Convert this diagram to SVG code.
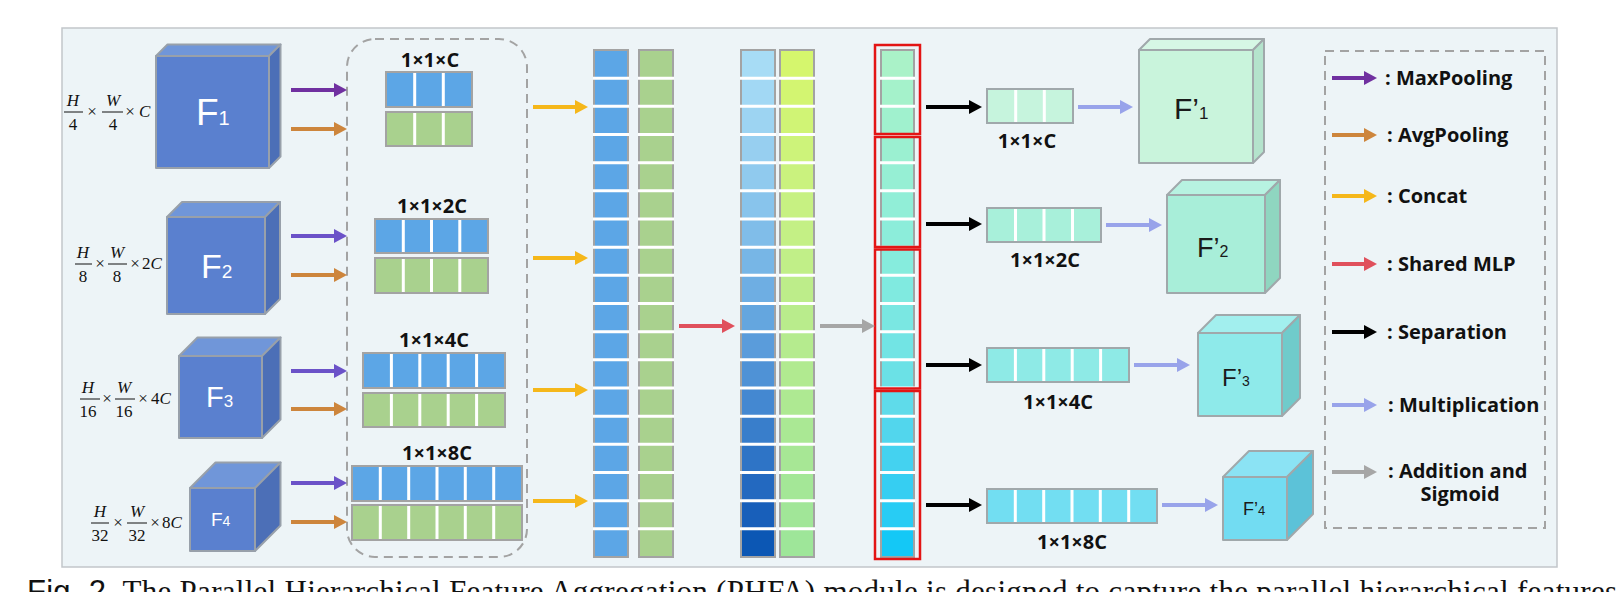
<svg xmlns="http://www.w3.org/2000/svg" width="1620" height="592" viewBox="0 0 1620 592">
<style>
.frame{fill:#edf4f7;stroke:#c2c6ca;stroke-width:1.5}
.dash{fill:none;stroke:#a3a3a3;stroke-width:2;stroke-dasharray:9 6}
.cf{fill:#5a80cf;stroke:#98a0aa;stroke-width:2;stroke-linejoin:round}
.ct{fill:#7096d9;stroke:#98a0aa;stroke-width:2;stroke-linejoin:round}
.cr{fill:#4c6fb7;stroke:#98a0aa;stroke-width:2;stroke-linejoin:round}
.ctxt{font-family:"Liberation Sans",Arial,sans-serif;fill:#ffffff}
.ptxt{font-family:"Liberation Sans",Arial,sans-serif;fill:#1a1a1a}
.math{font-family:"Liberation Serif","Times New Roman",serif;font-size:17px;fill:#111}
.it{font-style:italic}
.bar{stroke:#111;stroke-width:1}
.lbl{font-family:"Open Sans","Noto Sans",sans-serif;font-weight:700;font-size:20px;fill:#111;text-anchor:middle}
.leg{font-family:"Open Sans","Noto Sans",sans-serif;font-weight:700;font-size:20px;fill:#111}
.vb{fill:#5ca6e6;stroke:#a3a3a3;stroke-width:2}
.vg{fill:#a9d18e;stroke:#a3a3a3;stroke-width:2}
.cell{stroke:none}
.colo{fill:none;stroke:#a3a3a3;stroke-width:2}
.colb{fill:#5ca6e6;stroke:#a3a3a3;stroke-width:2}
.colg{fill:#a9d18e;stroke:#a3a3a3;stroke-width:2}
.sep{stroke:#ffffff;stroke-width:3}
.red{fill:none;stroke:#e31414;stroke-width:2.5}
.ps{stroke:#a0a8ab;stroke-width:2;stroke-linejoin:round}
.cap{font-family:"Liberation Serif","Times New Roman",serif;font-size:31px;fill:#111}
.a{fill:none;stroke-width:4}
</style>
<defs>
<marker id="mPur" markerUnits="userSpaceOnUse" markerWidth="14" markerHeight="14" refX="1" refY="7" orient="auto"><path d="M0,0 L13,7 L0,14 z" fill="#7030a0"/></marker>
<marker id="mVio" markerUnits="userSpaceOnUse" markerWidth="14" markerHeight="14" refX="1" refY="7" orient="auto"><path d="M0,0 L13,7 L0,14 z" fill="#6b52c8"/></marker>
<marker id="mOra" markerUnits="userSpaceOnUse" markerWidth="14" markerHeight="14" refX="1" refY="7" orient="auto"><path d="M0,0 L13,7 L0,14 z" fill="#cd853c"/></marker>
<marker id="mYel" markerUnits="userSpaceOnUse" markerWidth="14" markerHeight="14" refX="1" refY="7" orient="auto"><path d="M0,0 L13,7 L0,14 z" fill="#f5b71a"/></marker>
<marker id="mRed" markerUnits="userSpaceOnUse" markerWidth="14" markerHeight="14" refX="1" refY="7" orient="auto"><path d="M0,0 L13,7 L0,14 z" fill="#e0505c"/></marker>
<marker id="mBlk" markerUnits="userSpaceOnUse" markerWidth="14" markerHeight="14" refX="1" refY="7" orient="auto"><path d="M0,0 L13,7 L0,14 z" fill="#000000"/></marker>
<marker id="mLav" markerUnits="userSpaceOnUse" markerWidth="14" markerHeight="14" refX="1" refY="7" orient="auto"><path d="M0,0 L13,7 L0,14 z" fill="#98a3ea"/></marker>
<marker id="mGry" markerUnits="userSpaceOnUse" markerWidth="14" markerHeight="14" refX="1" refY="7" orient="auto"><path d="M0,0 L13,7 L0,14 z" fill="#a6a6a6"/></marker>
</defs>
<rect width="1620" height="592" fill="#ffffff"/>
<rect class="frame" x="62" y="28" width="1495" height="539"/>

<!-- Input cubes -->
<g id="F1">
<rect class="cf" x="156" y="56" width="113" height="112"/>
<polygon class="ct" points="156,56 167.5,44.5 280.5,44.5 269,56"/>
<polygon class="cr" points="269,56 280.5,44.5 280.5,156.5 269,168"/>
<text class="ctxt" x="196" y="125" font-size="37">F<tspan font-size="20">1</tspan></text>
</g>
<g id="F2">
<rect class="cf" x="167" y="217" width="98" height="97"/>
<polygon class="ct" points="167,217 182,202 280,202 265,217"/>
<polygon class="cr" points="265,217 280,202 280,299 265,314"/>
<text class="ctxt" x="201" y="278" font-size="34">F<tspan font-size="19">2</tspan></text>
</g>
<g id="F3">
<rect class="cf" x="179" y="356" width="83" height="82"/>
<polygon class="ct" points="179,356 197.5,337.5 280.5,337.5 262,356"/>
<polygon class="cr" points="262,356 280.5,337.5 280.5,419.5 262,438"/>
<text class="ctxt" x="206" y="407" font-size="29">F<tspan font-size="17">3</tspan></text>
</g>
<g id="F4">
<rect class="cf" x="190" y="488" width="65" height="63"/>
<polygon class="ct" points="190,488 215.5,462.5 280.5,462.5 255,488"/>
<polygon class="cr" points="255,488 280.5,462.5 280.5,525.5 255,551"/>
<text class="ctxt" x="211" y="526" font-size="19">F<tspan font-size="14">4</tspan></text>
</g>

<!-- Size labels -->
<g id="dim1" class="math">
<text class="it" x="73" y="106" text-anchor="middle">H</text><line class="bar" x1="64" y1="112" x2="83" y2="112"/><text x="73" y="130" text-anchor="middle">4</text>
<text x="92" y="117" text-anchor="middle">×</text>
<text class="it" x="113" y="106" text-anchor="middle">W</text><line class="bar" x1="102" y1="112" x2="123" y2="112"/><text x="113" y="130" text-anchor="middle">4</text>
<text x="130" y="117" text-anchor="middle">×</text>
<text class="it" x="139" y="117">C</text>
</g>
<g id="dim2" class="math">
<text class="it" x="83" y="258" text-anchor="middle">H</text><line class="bar" x1="75" y1="264" x2="92" y2="264"/><text x="83" y="282" text-anchor="middle">8</text>
<text x="100" y="269" text-anchor="middle">×</text>
<text class="it" x="117" y="258" text-anchor="middle">W</text><line class="bar" x1="108" y1="264" x2="127" y2="264"/><text x="117" y="282" text-anchor="middle">8</text>
<text x="135" y="269" text-anchor="middle">×</text>
<text x="142" y="269">2<tspan class="it">C</tspan></text>
</g>
<g id="dim3" class="math">
<text class="it" x="88" y="393" text-anchor="middle">H</text><line class="bar" x1="80" y1="399" x2="100" y2="399"/><text x="88" y="417" text-anchor="middle">16</text>
<text x="107" y="404" text-anchor="middle">×</text>
<text class="it" x="124" y="393" text-anchor="middle">W</text><line class="bar" x1="115" y1="399" x2="135" y2="399"/><text x="124" y="417" text-anchor="middle">16</text>
<text x="143" y="404" text-anchor="middle">×</text>
<text x="151" y="404">4<tspan class="it">C</tspan></text>
</g>
<g id="dim4" class="math">
<text class="it" x="100" y="517" text-anchor="middle">H</text><line class="bar" x1="91" y1="523" x2="109" y2="523"/><text x="100" y="541" text-anchor="middle">32</text>
<text x="118" y="528" text-anchor="middle">×</text>
<text class="it" x="137" y="517" text-anchor="middle">W</text><line class="bar" x1="127" y1="523" x2="147" y2="523"/><text x="137" y="541" text-anchor="middle">32</text>
<text x="155" y="528" text-anchor="middle">×</text>
<text x="162" y="528">8<tspan class="it">C</tspan></text>
</g>

<!-- Pooled vectors -->
<g id="pooled">
<rect class="dash" x="347" y="39" width="180" height="518" rx="28" ry="28"/>
<g id="p1">
<text class="lbl" x="430" y="67">1×1×C</text>
<rect class="vb" x="386" y="72" width="86" height="35"/>
<rect class="vg" x="386" y="112" width="86" height="34"/>
<path class="sep" d="M414.7,73V106M443.3,73V106M414.7,113V145M443.3,113V145"/>
</g>
<g id="p2">
<text class="lbl" x="432" y="213">1×1×2C</text>
<rect class="vb" x="375" y="219" width="113" height="34"/>
<rect class="vg" x="375" y="258" width="113" height="35"/>
<path class="sep" d="M403.3,220V252M431.5,220V252M459.8,220V252M403.3,259V292M431.5,259V292M459.8,259V292"/>
</g>
<g id="p3">
<text class="lbl" x="434" y="347">1×1×4C</text>
<rect class="vb" x="363" y="353" width="142" height="35"/>
<rect class="vg" x="363" y="393" width="142" height="34"/>
<path class="sep" d="M391.4,354V387M419.8,354V387M448.2,354V387M476.6,354V387M391.4,394V426M419.8,394V426M448.2,394V426M476.6,394V426"/>
</g>
<g id="p4">
<text class="lbl" x="437" y="460">1×1×8C</text>
<rect class="vb" x="352" y="466" width="170" height="35"/>
<rect class="vg" x="352" y="505" width="170" height="35"/>
<path class="sep" d="M380.3,467V500M408.7,467V500M437,467V500M465.3,467V500M493.7,467V500M380.3,506V539M408.7,506V539M437,506V539M465.3,506V539M493.7,506V539"/>
</g>
</g>

<!-- Concatenated columns -->
<g id="colMax">
<rect class="colb" x="594" y="50" width="34" height="507"/>
<path class="sep" d="M593,78.2H629M593,106.3H629M593,134.5H629M593,162.7H629M593,190.8H629M593,219H629M593,247.2H629M593,275.3H629M593,303.5H629M593,331.7H629M593,359.8H629M593,388H629M593,416.2H629M593,444.3H629M593,472.5H629M593,500.7H629M593,528.8H629"/>
</g>
<g id="colAvg">
<rect class="colg" x="639" y="50" width="34" height="507"/>
<path class="sep" d="M638,78.2H674M638,106.3H674M638,134.5H674M638,162.7H674M638,190.8H674M638,219H674M638,247.2H674M638,275.3H674M638,303.5H674M638,331.7H674M638,359.8H674M638,388H674M638,416.2H674M638,444.3H674M638,472.5H674M638,500.7H674M638,528.8H674"/>
</g>
<g id="colMLP1">
<rect class="cell" x="741" y="50" width="34" height="28.2" fill="#a7dcf5"/>
<rect class="cell" x="741" y="78.2" width="34" height="28.2" fill="#a2d8f4"/>
<rect class="cell" x="741" y="106.3" width="34" height="28.2" fill="#9dd4f2"/>
<rect class="cell" x="741" y="134.5" width="34" height="28.2" fill="#97cff0"/>
<rect class="cell" x="741" y="162.7" width="34" height="28.2" fill="#90caee"/>
<rect class="cell" x="741" y="190.8" width="34" height="28.2" fill="#88c4ec"/>
<rect class="cell" x="741" y="219" width="34" height="28.2" fill="#80bde9"/>
<rect class="cell" x="741" y="247.2" width="34" height="28.2" fill="#77b6e6"/>
<rect class="cell" x="741" y="275.3" width="34" height="28.2" fill="#6eaee3"/>
<rect class="cell" x="741" y="303.5" width="34" height="28.2" fill="#64a6df"/>
<rect class="cell" x="741" y="331.7" width="34" height="28.2" fill="#5a9cdb"/>
<rect class="cell" x="741" y="359.8" width="34" height="28.2" fill="#4f92d6"/>
<rect class="cell" x="741" y="388" width="34" height="28.2" fill="#4488d1"/>
<rect class="cell" x="741" y="416.2" width="34" height="28.2" fill="#397ecb"/>
<rect class="cell" x="741" y="444.3" width="34" height="28.2" fill="#2e74c6"/>
<rect class="cell" x="741" y="472.5" width="34" height="28.2" fill="#2369c0"/>
<rect class="cell" x="741" y="500.7" width="34" height="28.2" fill="#185fba"/>
<rect class="cell" x="741" y="528.8" width="34" height="28.2" fill="#0c57b4"/>
<rect class="colo" x="741" y="50" width="34" height="507"/>
<path class="sep" d="M740,78.2H776M740,106.3H776M740,134.5H776M740,162.7H776M740,190.8H776M740,219H776M740,247.2H776M740,275.3H776M740,303.5H776M740,331.7H776M740,359.8H776M740,388H776M740,416.2H776M740,444.3H776M740,472.5H776M740,500.7H776M740,528.8H776"/>
</g>
<g id="colMLP2">
<rect class="cell" x="780" y="50" width="34" height="28.2" fill="#d5f66d"/>
<rect class="cell" x="780" y="78.2" width="34" height="28.2" fill="#d3f571"/>
<rect class="cell" x="780" y="106.3" width="34" height="28.2" fill="#d0f475"/>
<rect class="cell" x="780" y="134.5" width="34" height="28.2" fill="#cdf37a"/>
<rect class="cell" x="780" y="162.7" width="34" height="28.2" fill="#caf27e"/>
<rect class="cell" x="780" y="190.8" width="34" height="28.2" fill="#c7f182"/>
<rect class="cell" x="780" y="219" width="34" height="28.2" fill="#c4f085"/>
<rect class="cell" x="780" y="247.2" width="34" height="28.2" fill="#c1ef88"/>
<rect class="cell" x="780" y="275.3" width="34" height="28.2" fill="#bded8a"/>
<rect class="cell" x="780" y="303.5" width="34" height="28.2" fill="#b9ec8c"/>
<rect class="cell" x="780" y="331.7" width="34" height="28.2" fill="#b5eb8e"/>
<rect class="cell" x="780" y="359.8" width="34" height="28.2" fill="#b1ea90"/>
<rect class="cell" x="780" y="388" width="34" height="28.2" fill="#aee992"/>
<rect class="cell" x="780" y="416.2" width="34" height="28.2" fill="#aae894"/>
<rect class="cell" x="780" y="444.3" width="34" height="28.2" fill="#a7e795"/>
<rect class="cell" x="780" y="472.5" width="34" height="28.2" fill="#a4e797"/>
<rect class="cell" x="780" y="500.7" width="34" height="28.2" fill="#a1e698"/>
<rect class="cell" x="780" y="528.8" width="34" height="28.2" fill="#9ee699"/>
<rect class="colo" x="780" y="50" width="34" height="507"/>
<path class="sep" d="M779,78.2H815M779,106.3H815M779,134.5H815M779,162.7H815M779,190.8H815M779,219H815M779,247.2H815M779,275.3H815M779,303.5H815M779,331.7H815M779,359.8H815M779,388H815M779,416.2H815M779,444.3H815M779,472.5H815M779,500.7H815M779,528.8H815"/>
</g>
<g id="colSig">
<rect class="cell" x="881" y="50" width="33" height="28.2" fill="#aaf2c8"/>
<rect class="cell" x="881" y="78.2" width="33" height="28.2" fill="#a5f2cb"/>
<rect class="cell" x="881" y="106.3" width="33" height="28.2" fill="#a0f1ce"/>
<rect class="cell" x="881" y="134.5" width="33" height="28.2" fill="#9bf0d1"/>
<rect class="cell" x="881" y="162.7" width="33" height="28.2" fill="#96efd4"/>
<rect class="cell" x="881" y="190.8" width="33" height="28.2" fill="#91eed7"/>
<rect class="cell" x="881" y="219" width="33" height="28.2" fill="#8cedda"/>
<rect class="cell" x="881" y="247.2" width="33" height="28.2" fill="#86ecdd"/>
<rect class="cell" x="881" y="275.3" width="33" height="28.2" fill="#80eae0"/>
<rect class="cell" x="881" y="303.5" width="33" height="28.2" fill="#7ae7e2"/>
<rect class="cell" x="881" y="331.7" width="33" height="28.2" fill="#72e4e4"/>
<rect class="cell" x="881" y="359.8" width="33" height="28.2" fill="#6be1e6"/>
<rect class="cell" x="881" y="388" width="33" height="28.2" fill="#5fdbea"/>
<rect class="cell" x="881" y="416.2" width="33" height="28.2" fill="#52d6ed"/>
<rect class="cell" x="881" y="444.3" width="33" height="28.2" fill="#44d2f0"/>
<rect class="cell" x="881" y="472.5" width="33" height="28.2" fill="#36cef2"/>
<rect class="cell" x="881" y="500.7" width="33" height="28.2" fill="#28ccf4"/>
<rect class="cell" x="881" y="528.8" width="33" height="28.2" fill="#14c8f6"/>
<rect class="colo" x="881" y="50" width="33" height="507"/>
<path class="sep" d="M880,78.2H915M880,106.3H915M880,134.5H915M880,162.7H915M880,190.8H915M880,219H915M880,247.2H915M880,275.3H915M880,303.5H915M880,331.7H915M880,359.8H915M880,388H915M880,416.2H915M880,444.3H915M880,472.5H915M880,500.7H915M880,528.8H915"/>
<rect class="red" x="875" y="45" width="45" height="89"/>
<rect class="red" x="875" y="137" width="45" height="110"/>
<rect class="red" x="875" y="249.5" width="45" height="139"/>
<rect class="red" x="875" y="391" width="45" height="168"/>
</g>

<!-- Separated weight vectors -->
<g id="w1">
<rect x="987" y="89" width="86" height="34" fill="#c6f4dd" stroke="#a0a8ab" stroke-width="2"/>
<path class="sep" d="M1015.7,90V122M1044.3,90V122"/>
<text class="lbl" x="1027" y="148">1×1×C</text>
</g>
<g id="w2">
<rect x="987" y="208" width="114" height="34" fill="#a8f0da" stroke="#a0a8ab" stroke-width="2"/>
<path class="sep" d="M1015.5,209V241M1044,209V241M1072.5,209V241"/>
<text class="lbl" x="1045" y="267">1×1×2C</text>
</g>
<g id="w3">
<rect x="987" y="348" width="142" height="34" fill="#8eeae6" stroke="#a0a8ab" stroke-width="2"/>
<path class="sep" d="M1015.4,349V381M1043.8,349V381M1072.2,349V381M1100.6,349V381"/>
<text class="lbl" x="1058" y="409">1×1×4C</text>
</g>
<g id="w4">
<rect x="987" y="489" width="170" height="34" fill="#72def2" stroke="#a0a8ab" stroke-width="2"/>
<path class="sep" d="M1015.3,490V522M1043.7,490V522M1072,490V522M1100.3,490V522M1128.7,490V522"/>
<text class="lbl" x="1072" y="549">1×1×8C</text>
</g>

<!-- Output cubes -->
<g id="Fp1">
<rect class="ps" x="1139" y="50" width="114" height="113" fill="#c9f4dc"/>
<polygon class="ps" points="1139,50 1150,39 1264,39 1253,50" fill="#d6f7e5"/>
<polygon class="ps" points="1253,50 1264,39 1264,152 1253,163" fill="#b4e3cc"/>
<text class="ptxt" x="1174" y="119" font-size="30">F’<tspan font-size="17">1</tspan></text>
</g>
<g id="Fp2">
<rect class="ps" x="1167" y="195" width="98" height="98" fill="#a8eed9"/>
<polygon class="ps" points="1167,195 1182,180 1280,180 1265,195" fill="#b7f2e1"/>
<polygon class="ps" points="1265,195 1280,180 1280,278 1265,293" fill="#8fd6c0"/>
<text class="ptxt" x="1197" y="257" font-size="27">F’<tspan font-size="16">2</tspan></text>
</g>
<g id="Fp3">
<rect class="ps" x="1198" y="333" width="84" height="83" fill="#8eeaea"/>
<polygon class="ps" points="1198,333 1216,315 1300,315 1282,333" fill="#a2efee"/>
<polygon class="ps" points="1282,333 1300,315 1300,398 1282,416" fill="#70cbcb"/>
<text class="ptxt" x="1222" y="386" font-size="24">F’<tspan font-size="14">3</tspan></text>
</g>
<g id="Fp4">
<rect class="ps" x="1223" y="477" width="64" height="63" fill="#72dcf2"/>
<polygon class="ps" points="1223,477 1249,451 1313,451 1287,477" fill="#8be3f4"/>
<polygon class="ps" points="1287,477 1313,451 1313,514 1287,540" fill="#5cc2d8"/>
<text class="ptxt" x="1243" y="515" font-size="18">F’<tspan font-size="13">4</tspan></text>
</g>

<!-- Connectors -->
<g id="connectors">
<line class="a" x1="291" y1="90" x2="335" y2="90" stroke="#7030a0" marker-end="url(#mPur)"/>
<line class="a" x1="291" y1="129" x2="335" y2="129" stroke="#cd853c" marker-end="url(#mOra)"/>
<line class="a" x1="291" y1="236" x2="335" y2="236" stroke="#6b52c8" marker-end="url(#mVio)"/>
<line class="a" x1="291" y1="275" x2="335" y2="275" stroke="#cd853c" marker-end="url(#mOra)"/>
<line class="a" x1="291" y1="371" x2="335" y2="371" stroke="#6b52c8" marker-end="url(#mVio)"/>
<line class="a" x1="291" y1="409" x2="335" y2="409" stroke="#cd853c" marker-end="url(#mOra)"/>
<line class="a" x1="291" y1="483" x2="335" y2="483" stroke="#6b52c8" marker-end="url(#mVio)"/>
<line class="a" x1="291" y1="522" x2="335" y2="522" stroke="#cd853c" marker-end="url(#mOra)"/>
<line class="a" x1="533" y1="107" x2="576" y2="107" stroke="#f5b71a" marker-end="url(#mYel)"/>
<line class="a" x1="533" y1="258" x2="576" y2="258" stroke="#f5b71a" marker-end="url(#mYel)"/>
<line class="a" x1="533" y1="390" x2="576" y2="390" stroke="#f5b71a" marker-end="url(#mYel)"/>
<line class="a" x1="533" y1="501" x2="576" y2="501" stroke="#f5b71a" marker-end="url(#mYel)"/>
<line class="a" x1="679" y1="326" x2="723" y2="326" stroke="#e0505c" marker-end="url(#mRed)"/>
<line class="a" x1="820" y1="326" x2="863" y2="326" stroke="#a6a6a6" marker-end="url(#mGry)"/>
<line class="a" x1="926" y1="107" x2="970" y2="107" stroke="#000" marker-end="url(#mBlk)"/>
<line class="a" x1="926" y1="224" x2="970" y2="224" stroke="#000" marker-end="url(#mBlk)"/>
<line class="a" x1="926" y1="365" x2="970" y2="365" stroke="#000" marker-end="url(#mBlk)"/>
<line class="a" x1="926" y1="505" x2="970" y2="505" stroke="#000" marker-end="url(#mBlk)"/>
<line class="a" x1="1078" y1="107" x2="1121" y2="107" stroke="#98a3ea" marker-end="url(#mLav)"/>
<line class="a" x1="1106" y1="225" x2="1150" y2="225" stroke="#98a3ea" marker-end="url(#mLav)"/>
<line class="a" x1="1134" y1="365" x2="1178" y2="365" stroke="#98a3ea" marker-end="url(#mLav)"/>
<line class="a" x1="1162" y1="505" x2="1206" y2="505" stroke="#98a3ea" marker-end="url(#mLav)"/>
</g>

<!-- Legend -->
<g id="legend">
<rect class="dash" x="1325" y="51" width="220" height="477"/>
<line class="a" x1="1332" y1="78" x2="1365" y2="78" stroke="#7030a0" marker-end="url(#mPur)"/>
<text class="leg" x="1385" y="85">: MaxPooling</text>
<line class="a" x1="1332" y1="135" x2="1365" y2="135" stroke="#cd853c" marker-end="url(#mOra)"/>
<text class="leg" x="1387" y="142">: AvgPooling</text>
<line class="a" x1="1332" y1="196" x2="1365" y2="196" stroke="#f5b71a" marker-end="url(#mYel)"/>
<text class="leg" x="1387" y="203">: Concat</text>
<line class="a" x1="1332" y1="264" x2="1365" y2="264" stroke="#e0505c" marker-end="url(#mRed)"/>
<text class="leg" x="1387" y="271">: Shared MLP</text>
<line class="a" x1="1332" y1="332" x2="1365" y2="332" stroke="#000" marker-end="url(#mBlk)"/>
<text class="leg" x="1387" y="339">: Separation</text>
<line class="a" x1="1332" y1="405" x2="1365" y2="405" stroke="#98a3ea" marker-end="url(#mLav)"/>
<text class="leg" x="1388" y="412">: Multiplication</text>
<line class="a" x1="1332" y1="472" x2="1365" y2="472" stroke="#a6a6a6" marker-end="url(#mGry)"/>
<text class="leg" x="1388" y="478">: Addition and<tspan x="1460" dy="23" text-anchor="middle">Sigmoid</tspan></text>
</g>

<text class="cap" x="27" y="602" textLength="1590" lengthAdjust="spacing"><tspan font-family="'Liberation Sans',Arial,sans-serif">Fig. 2.</tspan>  The Parallel Hierarchical Feature Aggregation (PHFA) module is designed to capture the parallel hierarchical features</text>
</svg>
